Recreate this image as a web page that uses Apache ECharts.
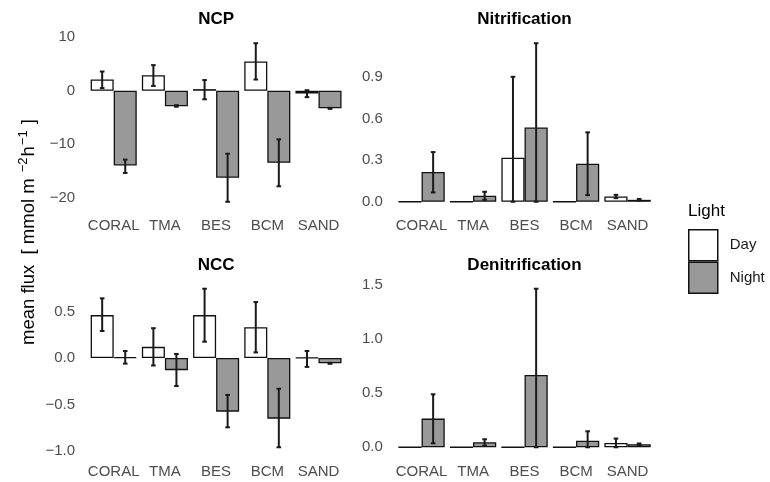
<!DOCTYPE html>
<html>
<head>
<meta charset="utf-8">
<script src="https://cdn.jsdelivr.net/npm/echarts@6/dist/echarts.min.js"></script>
<style>
  html, body { margin: 0; padding: 0; background: #fff; }
  #chart { width: 770px; height: 482px; }
</style>
</head>
<body>
<div id="chart"></div>
<script>
// Sites shown on every panel
const sites = ['CORAL', 'TMA', 'BES', 'BCM', 'SAND'];

// NCP: mean flux and error bounds [low, high]
const ncpDay = [2.1, 2.9, 0.3, 5.5, -0.5];
const ncpDayErr = [[0.5, 3.6], [0.9, 4.8], [-1.6, 2.0], [2.1, 8.9], [-1.2, 0.1]];
const ncpNight = [-14.0, -2.9, -16.3, -13.5, -3.3];
const ncpNightErr = [[-15.4, -12.9], [-3.0, -2.7], [-20.8, -11.8], [-17.9, -9.1], [-3.4, -3.2]];
const ncpTicks = [-20, -10, 0, 10];

// Nitrification
const nitDay = [0, 0, 0.317, 0, 0.038];
const nitDayErr = [null, null, [0, 0.90], null, [0.026, 0.05]];
const nitNight = [0.214, 0.043, 0.535, 0.274, 0.014];
const nitNightErr = [[0.067, 0.358], [0.014, 0.072], [0, 1.142], [0.048, 0.50], [0.008, 0.02]];
const nitTicks = [0, 0.3, 0.6, 0.9];

// NCC
const nccDay = [0.46, 0.12, 0.46, 0.33, 0.005];
const nccDayErr = [[0.29, 0.64], [-0.08, 0.32], [0.175, 0.743], [0.06, 0.60], [-0.095, 0.075]];
const nccNight = [0.01, -0.13, -0.575, -0.65, -0.057];
const nccNightErr = [[-0.06, 0.075], [-0.30, 0.043], [-0.743, -0.396], [-0.957, -0.33], [-0.062, -0.052]];
const nccTicks = [-1.0, -0.5, 0, 0.5];

// Denitrification
const denDay = [0, 0, 0, 0, 0.04];
const denDayErr = [null, null, null, null, [0, 0.08]];
const denNight = [0.264, 0.046, 0.666, 0.061, 0.028];
const denNightErr = [[0.037, 0.488], [0.015, 0.074], [0, 1.46], [0, 0.147], [0.02, 0.035]];
const denTicks = [0, 0.5, 1.0, 1.5];

const FONT = '"Liberation Sans", Arial, Helvetica, sans-serif';
const AXIS_GREY = '#4d4d4d';
const DAY_FILL = '#ffffff';
const NIGHT_FILL = '#999999';

const panels = [
  { title: 'NCP', day: ncpDay, dayErr: ncpDayErr, night: ncpNight, nightErr: ncpNightErr, ticks: ncpTicks, digits: 0 },
  { title: 'Nitrification', day: nitDay, dayErr: nitDayErr, night: nitNight, nightErr: nitNightErr, ticks: nitTicks, digits: 1 },
  { title: 'NCC', day: nccDay, dayErr: nccDayErr, night: nccNight, nightErr: nccNightErr, ticks: nccTicks, digits: 1 },
  { title: 'Denitrification', day: denDay, dayErr: denDayErr, night: denNight, nightErr: denNightErr, ticks: denTicks, digits: 1 }
];

// Panel frames (left column / right column, top row / bottom row)
const frames = [
  { left: 88.1, width: 256, top: 35.3, height: 174.4, cx: 216.2, ty: 19.5 },
  { left: 395.8, width: 257.5, top: 35.3, height: 174.4, cx: 524.5, ty: 19.5 },
  { left: 88.1, width: 256, top: 280.8, height: 174.4, cx: 216.2, ty: 265 },
  { left: 395.8, width: 257.5, top: 280.8, height: 174.4, cx: 524.5, ty: 265 }
];

// ggplot-style continuous limits: data range padded by 5% on each side
function limits(p) {
  const vals = [].concat(p.day, p.night);
  [p.dayErr, p.nightErr].forEach(arr => arr.forEach(e => { if (e) vals.push(e[0], e[1]); }));
  const lo = Math.min.apply(null, vals), hi = Math.max.apply(null, vals);
  const pad = (hi - lo) * 0.05;
  return [lo - pad, hi + pad];
}

function fmt(v, digits) {
  return v.toFixed(digits).replace('-', '\u2212');
}

// Error bar drawn at the dodged position of one of the two bars
function errorBar(side) {
  return function (params, api) {
    const ci = api.value(0);
    const band = api.size([1, 0])[0];
    const xc = api.coord([ci, 0])[0] + side * band * 0.225;
    const yLo = api.coord([ci, api.value(1)])[1];
    const yHi = api.coord([ci, api.value(2)])[1];
    const w = band * 0.045;
    const st = { stroke: '#1a1a1a', lineWidth: 2 };
    return {
      type: 'group',
      children: [
        { type: 'line', shape: { x1: xc, y1: yLo, x2: xc, y2: yHi }, style: st },
        { type: 'line', shape: { x1: xc - w, y1: yLo, x2: xc + w, y2: yLo }, style: st },
        { type: 'line', shape: { x1: xc - w, y1: yHi, x2: xc + w, y2: yHi }, style: st }
      ]
    };
  };
}

function errData(arr) {
  const out = [];
  arr.forEach((e, i) => { if (e) out.push([i, e[0], e[1]]); });
  return out;
}

const grids = [], xAxes = [], yAxes = [], barSeries = [], errSeries = [], graphics = [];

panels.forEach((p, k) => {
  const f = frames[k];
  const lim = limits(p);
  grids.push({ left: f.left, top: f.top, width: f.width, height: f.height, containLabel: false });
  xAxes.push({
    type: 'category', gridIndex: k, data: sites,
    axisLine: { show: false }, axisTick: { show: false },
    axisLabel: { interval: 0, color: AXIS_GREY, fontSize: 15, fontFamily: FONT, margin: 9 }
  });
  yAxes.push({
    type: 'value', gridIndex: k, min: lim[0], max: lim[1],
    axisLine: { show: false }, axisTick: { show: false }, splitLine: { show: false },
    axisLabel: {
      customValues: p.ticks, color: AXIS_GREY, fontSize: 15, fontFamily: FONT, margin: 13,
      formatter: v => fmt(v, p.digits)
    }
  });
  const barStyle = fill => ({ color: fill, borderColor: '#111111', borderWidth: 1.3 });
  barSeries.push({
    name: 'Day', type: 'bar', xAxisIndex: k, yAxisIndex: k, data: p.day,
    barGap: '0%', barCategoryGap: '10%', itemStyle: barStyle(DAY_FILL), z: 2
  });
  barSeries.push({
    name: 'Night', type: 'bar', xAxisIndex: k, yAxisIndex: k, data: p.night,
    barGap: '0%', barCategoryGap: '10%', itemStyle: barStyle(NIGHT_FILL), z: 2
  });
  errSeries.push({
    name: 'Day', type: 'custom', xAxisIndex: k, yAxisIndex: k, data: errData(p.dayErr),
    encode: { x: 0, y: [1, 2] }, renderItem: errorBar(-1), z: 5
  });
  errSeries.push({
    name: 'Night', type: 'custom', xAxisIndex: k, yAxisIndex: k, data: errData(p.nightErr),
    encode: { x: 0, y: [1, 2] }, renderItem: errorBar(1), z: 5
  });
  graphics.push({
    type: 'text', x: f.cx, y: f.ty,
    style: { text: p.title, font: 'bold 17px ' + FONT, fill: '#000', textAlign: 'center', textVerticalAlign: 'middle' }
  });
});

// Shared y-axis title with superscript exponents
graphics.push({
  type: 'text', x: 29, y: 232, rotation: Math.PI / 2,
  style: {
    text: '{a|mean flux  [ mmol m }{s|\u22122}{a|h}{s|\u22121}{a| ]}',
    textAlign: 'center', textVerticalAlign: 'middle',
    rich: {
      a: { fontSize: 18.5, fontFamily: FONT, fill: '#000', lineHeight: 24 },
      s: { fontSize: 13, fontFamily: FONT, fill: '#000', verticalAlign: 'top', lineHeight: 24, padding: [0, 1, 0, 1] }
    }
  }
});

// Legend heading
graphics.push({
  type: 'text', x: 688, y: 211,
  style: { text: 'Light', font: '17px ' + FONT, fill: '#000', textAlign: 'left', textVerticalAlign: 'middle' }
});

const chart = echarts.init(document.getElementById('chart'), null, { renderer: 'canvas' });
chart.setOption({
  animation: false,
  backgroundColor: '#ffffff',
  grid: grids,
  xAxis: xAxes,
  yAxis: yAxes,
  legend: {
    data: ['Day', 'Night'], orient: 'vertical', left: 688, top: 229, padding: 0,
    icon: 'rect', itemWidth: 29, itemHeight: 31, itemGap: 0,
    itemStyle: { borderWidth: 1.5 },
    textStyle: { fontSize: 15, fontFamily: FONT, color: '#1a1a1a', padding: [0, 0, 0, 7] },
    selectedMode: false
  },
  series: barSeries.concat(errSeries),
  graphic: graphics
});
</script>
</body>
</html>
